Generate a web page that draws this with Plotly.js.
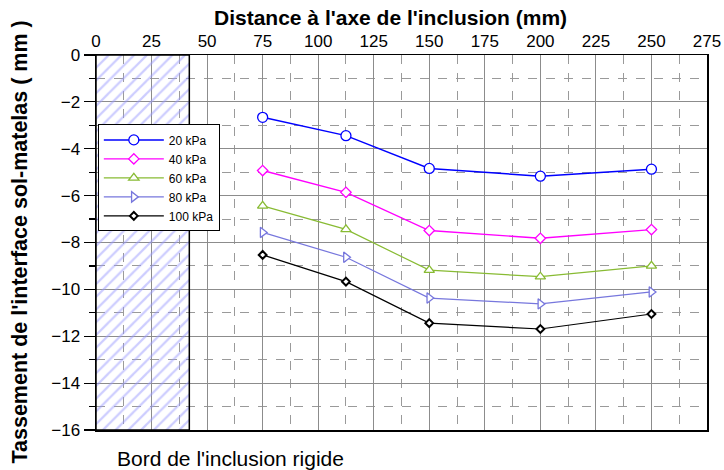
<!DOCTYPE html>
<html>
<head>
<meta charset="utf-8">
<script src="https://cdn.plot.ly/plotly-3.0.1.min.js"></script>
<style>html,body{margin:0;padding:0;background:#fff;}#chart{width:724px;height:470px;}</style>
</head>
<body>
<div id="chart"></div>
<script>
// Data
const distances = [75, 112.5, 150, 200, 250];
const seriesNames = ["20 kPa", "40 kPa", "60 kPa", "80 kPa", "100 kPa"];
const s20 = [-2.66, -3.44, -4.84, -5.17, -4.87];
const s40 = [-4.93, -5.86, -7.49, -7.82, -7.45];
const s60 = [-6.44, -7.44, -9.18, -9.46, -9.0];
const s80 = [-7.57, -8.63, -10.37, -10.62, -10.11];
const s100 = [-8.53, -9.67, -11.44, -11.69, -11.05];
const inclusionRadius = 42;
const depthMin = -16;
const xTickVals = [0, 25, 50, 75, 100, 125, 150, 175, 200, 225, 250, 275];
const yTickVals = [0, -2, -4, -6, -8, -10, -12, -14, -16];

const FONT = "Liberation Sans, Arial, Helvetica, sans-serif";

const styles = [
  {color: "#0000ff", symbol: "circle", size: 10, width: 1.3, lw: 1.5},
  {color: "#ff00ff", symbol: "diamond", size: 8, width: 1.3, lw: 1.4},
  {color: "#88bb33", symbol: "triangle-up", size: 9, width: 1.3, lw: 1.2},
  {color: "#7777dd", symbol: "triangle-right", size: 9, width: 1.3, lw: 1.2},
  {color: "#000000", symbol: "diamond", size: 6, width: 2, lw: 1.2}
];
const allSeries = [s20, s40, s60, s80, s100];

const traces = [{
  type: "bar",
  x: [inclusionRadius / 2],
  y: [depthMin],
  base: [0],
  width: [inclusionRadius],
  marker: {
    color: "rgba(0,0,0,0)",
    line: {color: "#000", width: 1.5},
    pattern: {shape: "/", fgcolor: "#9a9aff", bgcolor: "rgba(0,0,0,0)", size: 9, solidity: 0.25, fillmode: "overlay"}
  },
  showlegend: false,
  hoverinfo: "skip"
}];

allSeries.forEach((s, i) => {
  const st = styles[i];
  traces.push({
    type: "scatter",
    mode: "lines+markers",
    name: seriesNames[i],
    x: distances,
    y: s,
    line: {color: st.color, width: st.lw},
    marker: {symbol: st.symbol, size: st.size, color: "#ffffff", line: {color: st.color, width: st.width}}
  });
});

const layout = {
  width: 724,
  height: 470,
  margin: {l: 96, r: 17, t: 55, b: 40},
  paper_bgcolor: "#fff",
  plot_bgcolor: "#fff",
  font: {family: FONT, color: "#000"},
  showlegend: true,
  legend: {
    x: 0.003, y: 0.815, xanchor: "left", yanchor: "top",
    bgcolor: "#fff", bordercolor: "#000", borderwidth: 1,
    font: {family: FONT, size: 12, color: "#000"},
    tracegroupgap: 0, itemwidth: 60
  },
  xaxis: {
    side: "top",
    range: [0, 275],
    tickvals: xTickVals,
    ticks: "",
    showline: true, mirror: true, linecolor: "#000", linewidth: 1.5,
    showgrid: true, gridcolor: "#8c8c8c", gridwidth: 1,
    zeroline: false,
    tickfont: {family: FONT, size: 17, color: "#000"},
    minor: {dtick: 12.5, tick0: 0, showgrid: true, gridcolor: "#9a9a9a", griddash: "dash", gridwidth: 1}
  },
  yaxis: {
    range: [depthMin, 0],
    tickvals: yTickVals,
    ticks: "outside", ticklen: 11, tickcolor: "#000", tickwidth: 1.2,
    showline: true, mirror: true, linecolor: "#000", linewidth: 1.5,
    showgrid: true, gridcolor: "#8c8c8c", gridwidth: 1,
    zeroline: false,
    tickfont: {family: FONT, size: 17, color: "#000"},
    minor: {dtick: 1, tick0: 0, ticks: "outside", ticklen: 6, tickcolor: "#000", showgrid: true, gridcolor: "#9a9a9a", griddash: "dash", gridwidth: 1}
  },
  annotations: [{
    xref: "paper", yref: "paper",
    x: (390 - 96) / 611, y: 1 + (55 - 17) / 375,
    xanchor: "center", yanchor: "middle",
    text: "<b>Distance à l'axe de l'inclusion (mm)</b>",
    showarrow: false,
    font: {family: FONT, size: 21, color: "#000"}
  }, {
    xref: "paper", yref: "paper",
    x: (19 - 96) / 611, y: 0.5,
    xanchor: "center", yanchor: "middle",
    textangle: -90,
    text: "<b>Tassement de l'interface sol-matelas ( mm )</b>",
    showarrow: false,
    font: {family: FONT, size: 21.5, color: "#000"}
  }, {
    xref: "paper", yref: "paper",
    x: (230 - 96) / 611, y: -(458 - 430) / 375,
    xanchor: "center", yanchor: "middle",
    text: "Bord de l'inclusion rigide",
    showarrow: false,
    font: {family: FONT, size: 21, color: "#000"}
  }]
};

Plotly.newPlot("chart", traces, layout, {displayModeBar: false, staticPlot: true});
</script>
</body>
</html>
